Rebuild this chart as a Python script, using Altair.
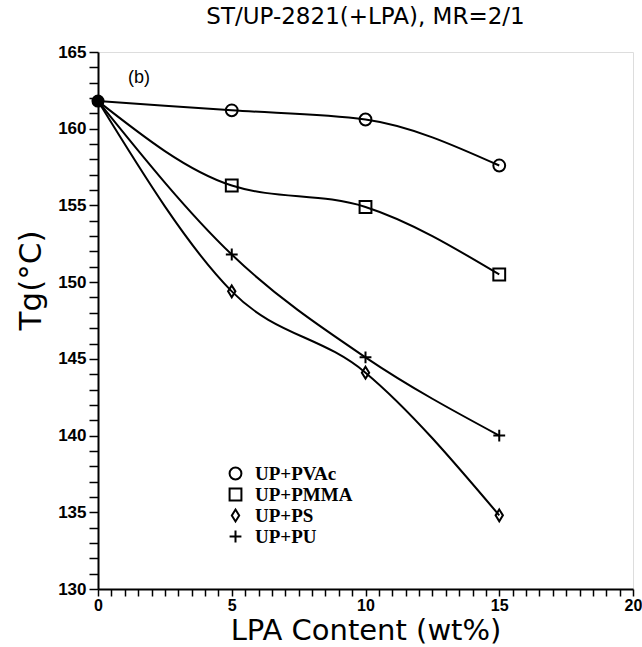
import altair as alt
import pandas as pd

lpa = [0, 5, 10, 15]
pvac = [161.8, 161.2, 160.6, 157.6]
pmma = [161.8, 156.3, 154.9, 150.5]
ps = [161.8, 149.4, 144.1, 134.8]
pu = [161.8, 151.8, 145.1, 140.0]
series = ["UP+PVAc", "UP+PMMA", "UP+PS", "UP+PU"]

rows = []
for name, vals in zip(series, [pvac, pmma, ps, pu]):
    for x, y in zip(lpa, vals):
        rows.append({"lpa": x, "tg": y, "series": name})
df = pd.DataFrame(rows)
df_pts = df[df["lpa"] > 0]
df_start = df[df["lpa"] == 0].head(1)

xvals = [i * 0.5 for i in range(41)]
yvals = list(range(130, 166))

xaxis = alt.Axis(values=xvals, labelExpr="datum.value % 5 == 0 ? format(datum.value, 'd') : ''",
                 labelOverlap=False, labelFlush=False, labelBound=False,
                 title="LPA Content (wt%)", grid=False, tickSize=7, tickColor="black",
                 domainColor="black", domainWidth=2, tickWidth=1.5,
                 labelFont="Liberation Sans", labelFontWeight="bold", labelFontSize=16,
                 labelColor="black", labelPadding=1,
                 titleFont="DejaVu Sans", titleFontWeight="normal", titleFontSize=29,
                 titleColor="black", titlePadding=3)
yaxis = alt.Axis(values=yvals, labelExpr="datum.value % 5 == 0 ? format(datum.value, 'd') : ''",
                 labelOverlap=False, labelFlush=False, labelBound=False,
                 title="Tg(°C)", grid=False, tickSize=9, tickColor="black",
                 domainColor="black", domainWidth=2, tickWidth=1.5,
                 labelFont="Liberation Sans", labelFontWeight="bold", labelFontSize=17,
                 labelColor="black", labelPadding=3,
                 titleFont="DejaVu Sans", titleFontWeight="normal", titleFontSize=31,
                 titleColor="black", titlePadding=10, titleY=228)
xscale = alt.Scale(domain=[0, 20], nice=False)
yscale = alt.Scale(domain=[130, 165], nice=False, zero=False)

def X():
    return alt.X("lpa:Q", scale=xscale, axis=xaxis)

def Y():
    return alt.Y("tg:Q", scale=yscale, axis=yaxis)

shape_scale = alt.Scale(domain=series,
                        range=["circle", "square",
                               "M0,-1L0.62,0L0,1L-0.62,0Z",
                               "M-1,0L1,0M0,-1L0,1"])

lines = alt.Chart(df).mark_line(interpolate="monotone", color="black", strokeWidth=2).encode(
    x=X(), y=Y(), detail="series:N")

points = alt.Chart(df_pts).mark_point(filled=False, color="black", strokeWidth=2, size=140, opacity=1).encode(
    x=X(), y=Y(),
    shape=alt.Shape("series:N", scale=shape_scale, sort=series,
                    legend=alt.Legend(title=None, orient="none", legendX=128, legendY=412,
                                      labelFont="Liberation Serif", labelFontWeight="bold",
                                      labelFontSize=19, labelColor="black", symbolSize=140,
                                      symbolStrokeColor="black", symbolStrokeWidth=2,
                                      symbolFillColor="white", rowPadding=0, labelOffset=10)))

start = alt.Chart(df_start).mark_point(filled=True, color="black", size=170, shape="circle", opacity=1).encode(
    x=X(), y=Y())

label_b = alt.Chart(pd.DataFrame({"t": ["(b)"]})).mark_text(
    font="Liberation Sans", fontSize=18, color="black", align="left", baseline="middle").encode(
    text="t:N", x=alt.value(30), y=alt.value(26))

chart = alt.layer(lines, points, start, label_b).properties(
    width=535, height=537,
    title=alt.TitleParams("ST/UP-2821(+LPA), MR=2/1", font="DejaVu Sans", fontSize=23,
                          fontWeight="normal", color="black", offset=14, anchor="middle"),
    autosize=alt.AutoSizeParams(type="none"),
    padding={"left": 98, "top": 52, "right": 9, "bottom": 58},
).configure_view(stroke="black", strokeWidth=2).configure(background="white")

chart.save("out.html", embed_options={"renderer": "svg", "actions": False})
